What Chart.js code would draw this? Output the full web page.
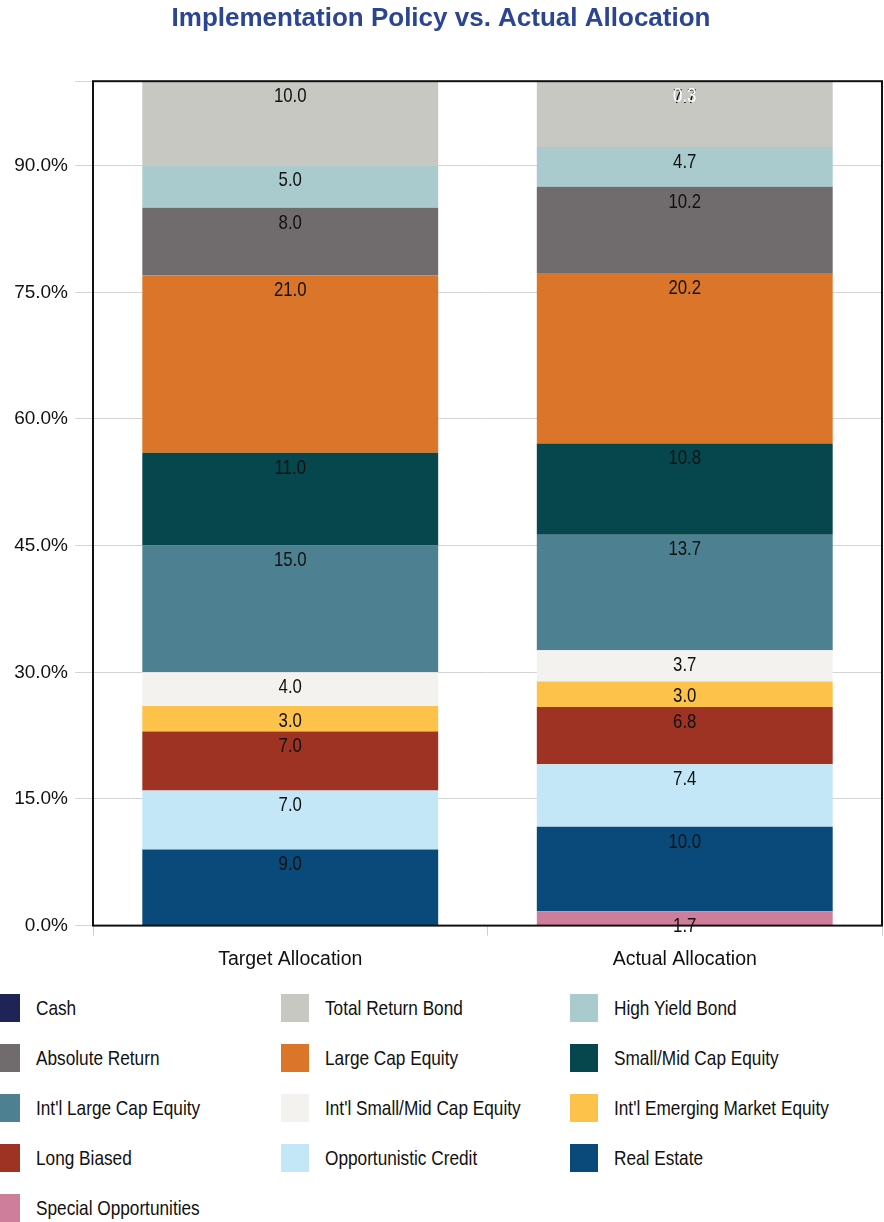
<!DOCTYPE html>
<html>
<head>
<meta charset="utf-8">
<script src="https://cdn.jsdelivr.net/npm/chart.js@4.4.1/dist/chart.umd.min.js"></script>
<style>
  body { margin: 0; background: #fff; width: 884px; height: 1222px; overflow: hidden; position: relative; }
  #wrap { position: absolute; left: 0; top: 0; width: 884px; height: 983px; }
  #legend {
    position: absolute; left: -8px; top: 983px;
    display: grid; grid-template-columns: 289px 289px 289px; grid-auto-rows: 50px;
    font-family: "Liberation Sans", Arial, sans-serif; font-size: 21px; color: #111;
  }
  .item { display: flex; align-items: center; white-space: nowrap; }
  .box { width: 28px; height: 28px; margin-right: 16px; flex: none; }
  .txt { display: inline-block; transform: scaleX(0.82); transform-origin: left center; }
</style>
</head>
<body>
<div id="wrap"><canvas id="chart"></canvas></div>
<div id="legend"></div>
<script>
// categories on the x axis
const categories = ["Target Allocation", "Actual Allocation"];

// asset classes, bottom of the stack first
const assetClasses = [
    "Special Opportunities",
    "Real Estate",
    "Opportunistic Credit",
    "Long Biased",
    "Int'l Emerging Market Equity",
    "Int'l Small/Mid Cap Equity",
    "Int'l Large Cap Equity",
    "Small/Mid Cap Equity",
    "Large Cap Equity",
    "Absolute Return",
    "High Yield Bond",
    "Total Return Bond",
    "Cash",
];

// percent of portfolio, same order as assetClasses
const targetValues = [0, 9.0, 7.0, 7.0, 3.0, 4.0, 15.0, 11.0, 21.0, 8.0, 5.0, 10.0, 0];
const actualValues = [1.7, 10.0, 7.4, 6.8, 3.0, 3.7, 13.7, 10.8, 20.2, 10.2, 4.7, 7.7, 0.3];

const yTicks = [0, 15, 30, 45, 60, 75, 90];

const colors = [
    "#CE7E9B", "#0A4A7A", "#C4E7F8", "#9E3223", "#FDC24A", "#F3F2EE", "#4D8191",
    "#06474D", "#DA7529", "#706B6C", "#A9CBCD", "#C7C8C2", "#1F2456",
];

const sans = "'Liberation Sans', Arial, sans-serif";

// draws the value near the top of each segment (squeezed to look like a narrow face)
const segmentLabels = {
    id: "segmentLabels",
    afterDatasetsDraw(chart) {
        const ctx = chart.ctx;
        chart.data.datasets.forEach((ds, i) => {
            const meta = chart.getDatasetMeta(i);
            meta.data.forEach((bar, j) => {
                const v = ds.data[j];
                if (!v) return;
                ctx.save();
                ctx.translate(bar.x, Math.max(bar.y, chart.chartArea.top) + 15);
                ctx.scale(0.8, 1);
                ctx.font = "21px " + sans;
                ctx.textAlign = "center";
                ctx.textBaseline = "middle";
                ctx.fillStyle = ds.label === "Cash" ? "#ffffff" : "#111111";
                ctx.fillText(v.toFixed(1), 0, 0);
                ctx.restore();
            });
        });
    },
};

// black frame round the plot area
const plotFrame = {
    id: "plotFrame",
    afterDraw(chart) {
        const { left, top, right, bottom } = chart.chartArea;
        const ctx = chart.ctx;
        ctx.save();
        ctx.strokeStyle = "#111";
        ctx.lineWidth = 2;
        ctx.strokeRect(left, top, right - left, bottom - top);
        ctx.restore();
    },
};

const chart = new Chart(document.getElementById("chart"), {
    type: "bar",
    data: {
        labels: categories,
        datasets: assetClasses.map((name, i) => ({
            label: name,
            data: [targetValues[i], actualValues[i]],
            backgroundColor: colors[i],
            borderWidth: 0,
            barPercentage: 1,
            categoryPercentage: 0.75,
        })),
    },
    options: {
        responsive: true,
        maintainAspectRatio: false,
        animation: false,
        layout: { padding: { top: 0, right: 2, left: 0, bottom: 0 } },
        scales: {
            x: {
                stacked: true,
                grid: { drawOnChartArea: false, tickLength: 10, color: "#cfcfcf" },
                border: { display: false },
                ticks: { color: "#111", padding: 12, font: { size: 19.5, family: sans } },
            },
            y: {
                stacked: true,
                min: 0,
                max: 100,
                afterBuildTicks: (scale) => {
                    scale.ticks = yTicks.concat([100]).map((v) => ({ value: v }));
                },
                afterFit: (scale) => { scale.width = 93; },
                grid: { color: "#d4d4d4", tickLength: 18, lineWidth: 1 },
                border: { display: false },
                ticks: {
                    color: "#111",
                    padding: 7,
                    font: { size: 19, family: sans },
                    callback: (v) => (v === 100 ? "" : v.toFixed(1) + "%"),
                },
            },
        },
        plugins: {
            legend: { display: false },
            tooltip: { enabled: false },
            title: {
                display: true,
                text: "Implementation Policy vs. Actual Allocation",
                color: "#2B4592",
                font: { size: 26, weight: "bold", family: sans },
                padding: { top: 3, bottom: 47 },
            },
        },
    },
    plugins: [segmentLabels, plotFrame],
});

// legend in the same order as the stack, top first
const legend = document.getElementById("legend");
assetClasses.slice().reverse().forEach((name) => {
    const i = assetClasses.indexOf(name);
    const item = document.createElement("div");
    item.className = "item";
    item.innerHTML = `<span class="box" style="background:${colors[i]}"></span><span class="txt">${name}</span>`;
    legend.appendChild(item);
});
</script>
</body>
</html>
